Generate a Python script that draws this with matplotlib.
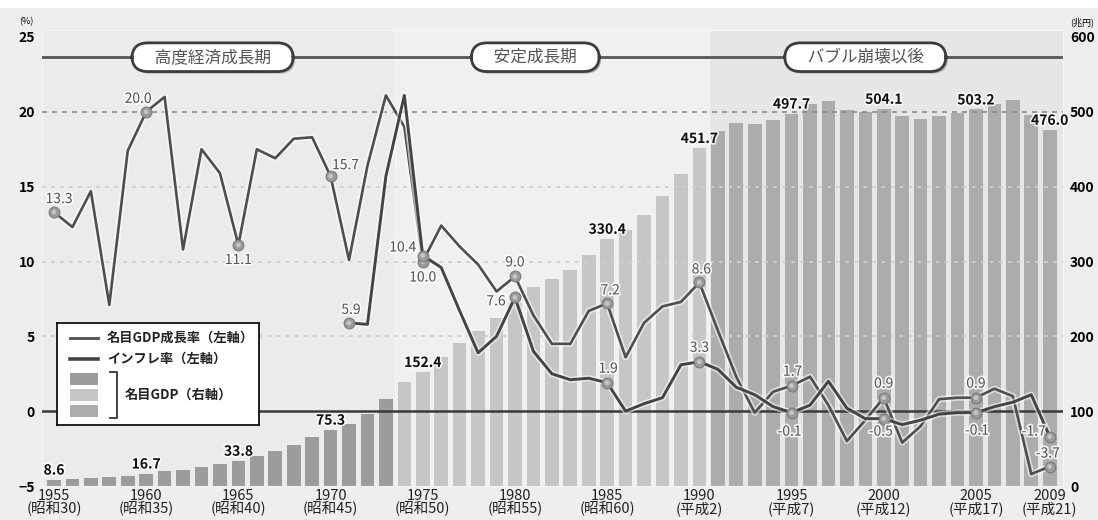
import matplotlib
matplotlib.use('Agg')
import matplotlib.pyplot as plt
import matplotlib.patheffects as pe
from matplotlib.patches import Rectangle

plt.rcParams['font.family'] = ['Noto Sans CJK JP', 'DejaVu Sans']

# ---------------- data ----------------
years = list(range(1955, 2010))
gdp = [8.6, 9.6, 11.0, 11.5, 13.0, 16.7, 20.2, 21.9, 25.6, 29.5,
       33.8, 39.8, 46.4, 54.9, 65.1, 75.3, 82.9, 96.5, 116.7, 139.0,
       152.4, 172.5, 190.5, 207.5, 224.5, 245.0, 265.5, 276.5, 289.0, 309.0,
       330.4, 342.5, 362.0, 387.5, 416.5, 451.7, 474.5, 484.5, 483.5, 489.5,
       497.7, 510.0, 514.0, 503.0, 500.0, 504.1, 494.0, 490.0, 494.0, 498.0,
       503.2, 511.0, 516.0, 496.0, 476.0]
growth = [13.3, 12.3, 14.7, 7.1, 17.4, 20.0, 21.0, 10.8, 17.5, 15.9,
          11.1, 17.5, 16.9, 18.2, 18.3, 15.7, 10.1, 16.4, 21.1, 19.0,
          10.0, 12.4, 11.0, 9.8, 8.0, 9.0, 6.4, 4.5, 4.5, 6.7,
          7.2, 3.6, 5.9, 7.0, 7.3, 8.6, 5.4, 2.3, -0.1, 1.3,
          1.7, 2.3, 0.4, -2.0, -0.6, 0.9, -2.1, -1.0, 0.8, 0.9,
          0.9, 1.5, 1.0, -4.2, -3.7]
infl_years = list(range(1971, 2010))
inflation = [5.9, 5.8, 15.7, 21.1,
             10.4, 9.6, 6.7, 3.9, 5.0, 7.6, 4.0, 2.5, 2.1, 2.2,
             1.9, 0.0, 0.5, 0.9, 3.1, 3.3, 2.8, 1.6, 1.1, 0.3,
             -0.1, 0.4, 2.0, 0.2, -0.5, -0.5, -0.9, -0.6, -0.2, -0.1,
             -0.1, 0.3, 0.6, 1.1, -1.7]

tick_years = [1955, 1960, 1965, 1970, 1975, 1980, 1985, 1990, 1995, 2000, 2005, 2009]
tick_eras = ['昭和30', '昭和35', '昭和40', '昭和45', '昭和50', '昭和55', '昭和60',
             '平成2', '平成7', '平成12', '平成17', '平成21']
gdp_label_years = [1955, 1960, 1965, 1970, 1975, 1985, 1990, 1995, 2000, 2005, 2009]
growth_label_years = [1955, 1960, 1965, 1970, 1975, 1980, 1985, 1990, 1995, 2000, 2005, 2009]
infl_label_years = [1971, 1975, 1980, 1985, 1990, 1995, 2000, 2005, 2009]

periods = ['高度経済成長期', '安定成長期', 'バブル崩壊以後']
period_bounds = [(1954.35, 1973.5), (1973.5, 1990.5), (1990.5, 2009.72)]
period_text_x = [1963.6, 1981.1, 1999.0]

legend_labels = ['名目GDP成長率（左軸）', 'インフレ率（左軸）', '名目GDP（右軸）']

# ---------------- style ----------------
C_DARK, C_LIGHT, C_MID = '#9c9c9c', '#c6c6c6', '#acacac'
C_GROW, C_INFL = '#4e4e4e', '#444444'
panel_colors = ['#ebebeb', '#f0f0f0', '#e6e6e6']

def bar_color(y):
    if y <= 1973:
        return C_DARK
    if y <= 1990:
        return C_LIGHT
    return C_MID

W, H = 1098, 520
fig = plt.figure(figsize=(W / 100, H / 100), dpi=100, facecolor='#eeeeee')
fig.patches.append(Rectangle((0, 1 - 8 / H), 1, 8 / H, transform=fig.transFigure,
                             facecolor='white', edgecolor='none', zorder=0))

ax = fig.add_axes([42 / W, 34 / H, 1021 / W, 449 / H])
ax.set_facecolor('none')
ax.set_xlim(1954.35, 2009.72)
ax.set_ylim(0, 600)
for s in ax.spines.values():
    s.set_visible(False)

# period panels
for (x0, x1), pc in zip(period_bounds, panel_colors):
    ax.add_patch(Rectangle((x0, 0), x1 - x0, 610, facecolor=pc, edgecolor='#f6f6f6',
                           lw=0.8, zorder=0, clip_on=False))

# bars
ax.bar(years, gdp, width=0.74, color=[bar_color(y) for y in years], zorder=2,
       edgecolor='none')
halo_w = [pe.withStroke(linewidth=2.5, foreground='white', alpha=0.8)]
for y in gdp_label_years:
    v = gdp[years.index(y)]
    ax.annotate(f'{v:.1f}', (y, v), xytext=(0, 2), textcoords='offset pixels',
                ha='center', va='bottom', fontsize=10, fontweight='bold',
                color='#111111', path_effects=halo_w, zorder=6)

ax.set_xticks(tick_years)
ax.set_xticklabels([f'{y}\n({e})' for y, e in zip(tick_years, tick_eras)],
                   fontsize=10.5, linespacing=0.88, color='#222222')
ax.tick_params(axis='x', length=0, pad=2)

# line axes
axl = ax.twinx()
axl.set_ylim(-5, 25)
axl.set_xlim(ax.get_xlim())
for s in axl.spines.values():
    s.set_visible(False)

# right axis (GDP) on the bar axes, left axis (%) on the line axes
ax.yaxis.set_ticks_position('right')
ax.yaxis.set_label_position('right')
ax.set_yticks([0, 100, 200, 300, 400, 500, 600])
ax.tick_params(axis='y', which='both', length=0, pad=5, labelsize=10,
               labelleft=False, labelright=True)
for t in ax.get_yticklabels():
    t.set_fontweight('bold')

axl.yaxis.set_ticks_position('left')
axl.yaxis.set_label_position('left')
axl.set_yticks([-5, 0, 5, 10, 15, 20, 25])
axl.tick_params(axis='y', which='both', length=0, pad=5, labelsize=10,
                labelleft=True, labelright=False)
for t in axl.get_yticklabels():
    t.set_fontweight('bold')

for v in [5, 10, 15]:
    axl.axhline(v, color='#cfcfcf', lw=1.3, ls=(0, (2, 3)), zorder=1)
axl.axhline(20, color='#8a8a8a', lw=1.2, ls=(0, (3, 3)), zorder=1)
axl.axhline(0, color='#3a3a3a', lw=1.8, zorder=2)

# header line and period boxes
axl.axhline(23.65, color='#555555', lw=2.0, zorder=3)
for name, xc in zip(periods, period_text_x):
    t = axl.text(xc, 23.65, '\u3000' + name + '\u3000', ha='center', va='center',
                 fontsize=12, color='#555555', zorder=5,
                 bbox=dict(boxstyle='round,pad=0.35,rounding_size=0.95', fc='white',
                           ec='#3c3c3c', lw=2.0))
    t.get_bbox_patch().set_path_effects([pe.SimplePatchShadow(offset=(1.5, -1.5),
                                                              alpha=0.35), pe.Normal()])

line_fx = [pe.Stroke(linewidth=4.5, foreground='#ffffff', alpha=0.55), pe.Normal()]
axl.plot(years, growth, color=C_GROW, lw=1.9, zorder=4, path_effects=line_fx)
axl.plot(infl_years, inflation, color=C_INFL, lw=2.1, zorder=4, path_effects=line_fx)

# markers
gx = growth_label_years
gy = [growth[years.index(y)] for y in gx]
ix = infl_label_years
iy = [inflation[infl_years.index(y)] for y in ix]
for xs, ys in [(gx, gy), (ix, iy)]:
    axl.scatter(xs, ys, s=60, facecolor='#9a9a9a', edgecolor='#7a7a7a', lw=0.8, zorder=5)
    axl.scatter(xs, ys, s=12, facecolor='#c4c4c4', edgecolor='none', zorder=5)

halo_g = [pe.withStroke(linewidth=2.5, foreground='white', alpha=0.85)]
g_off = {1955: (5, 13), 1960: (-8, 13), 1965: (0, -15), 1970: (15, 11), 1975: (0, -16),
         1980: (0, 14), 1985: (3, 13), 1990: (2, 13), 1995: (1, 14), 2000: (0, 14),
         2005: (0, 14), 2009: (-2, 13)}
i_off = {1971: (2, 13), 1975: (-20, 8), 1980: (-19, -4), 1985: (1, 14), 1990: (0, 14),
         1995: (-2, -19), 2000: (-3, -13), 2005: (1, -18), 2009: (-16, 5)}
for y, v in zip(gx, gy):
    axl.annotate(f'{v:.1f}', (y, v), xytext=g_off[y], textcoords='offset pixels',
                 ha='center', va='center', fontsize=10, color='#555555',
                 path_effects=halo_g, zorder=6)
for y, v in zip(ix, iy):
    axl.annotate(f'{v:.1f}', (y, v), xytext=i_off[y], textcoords='offset pixels',
                 ha='center', va='center', fontsize=10, color='#555555',
                 path_effects=halo_g, zorder=6)

# unit labels
fig.text(26 / W, 1 - 22 / H, '(%)', fontsize=6.5, ha='center', va='center')
fig.text(1082 / W, 1 - 22 / H, '(兆円)', fontsize=6.5, ha='center', va='center')

# legend panel
lg = fig.add_axes([57 / W, (H - 425) / H, 202 / W, 102 / H])
lg.set_xlim(0, 202)
lg.set_ylim(102, 0)
lg.set_xticks([])
lg.set_yticks([])
lg.set_facecolor('white')
for s in lg.spines.values():
    s.set_color('#111111')
    s.set_linewidth(1.3)
lg.plot([13, 41], [15, 15], color=C_GROW, lw=2.0)
lg.plot([13, 41], [36, 36], color=C_INFL, lw=2.6)
lg.text(50, 15, legend_labels[0], fontsize=9.5, fontweight='bold', va='center', color='#222')
lg.text(50, 36, legend_labels[1], fontsize=9.5, fontweight='bold', va='center', color='#222')
for (y0, y1), c in zip([(50, 62), (66, 78), (82, 94)], [C_DARK, C_LIGHT, C_MID]):
    lg.add_patch(Rectangle((13, y0), 28, y1 - y0, facecolor=c, edgecolor='none'))
lg.plot([53, 60, 60, 53], [49, 49, 95, 95], color='#333333', lw=1.3)
lg.text(68, 72, legend_labels[2], fontsize=9.5, fontweight='bold', va='center', color='#222')

fig.savefig('out.png', dpi=100, facecolor=fig.get_facecolor())
